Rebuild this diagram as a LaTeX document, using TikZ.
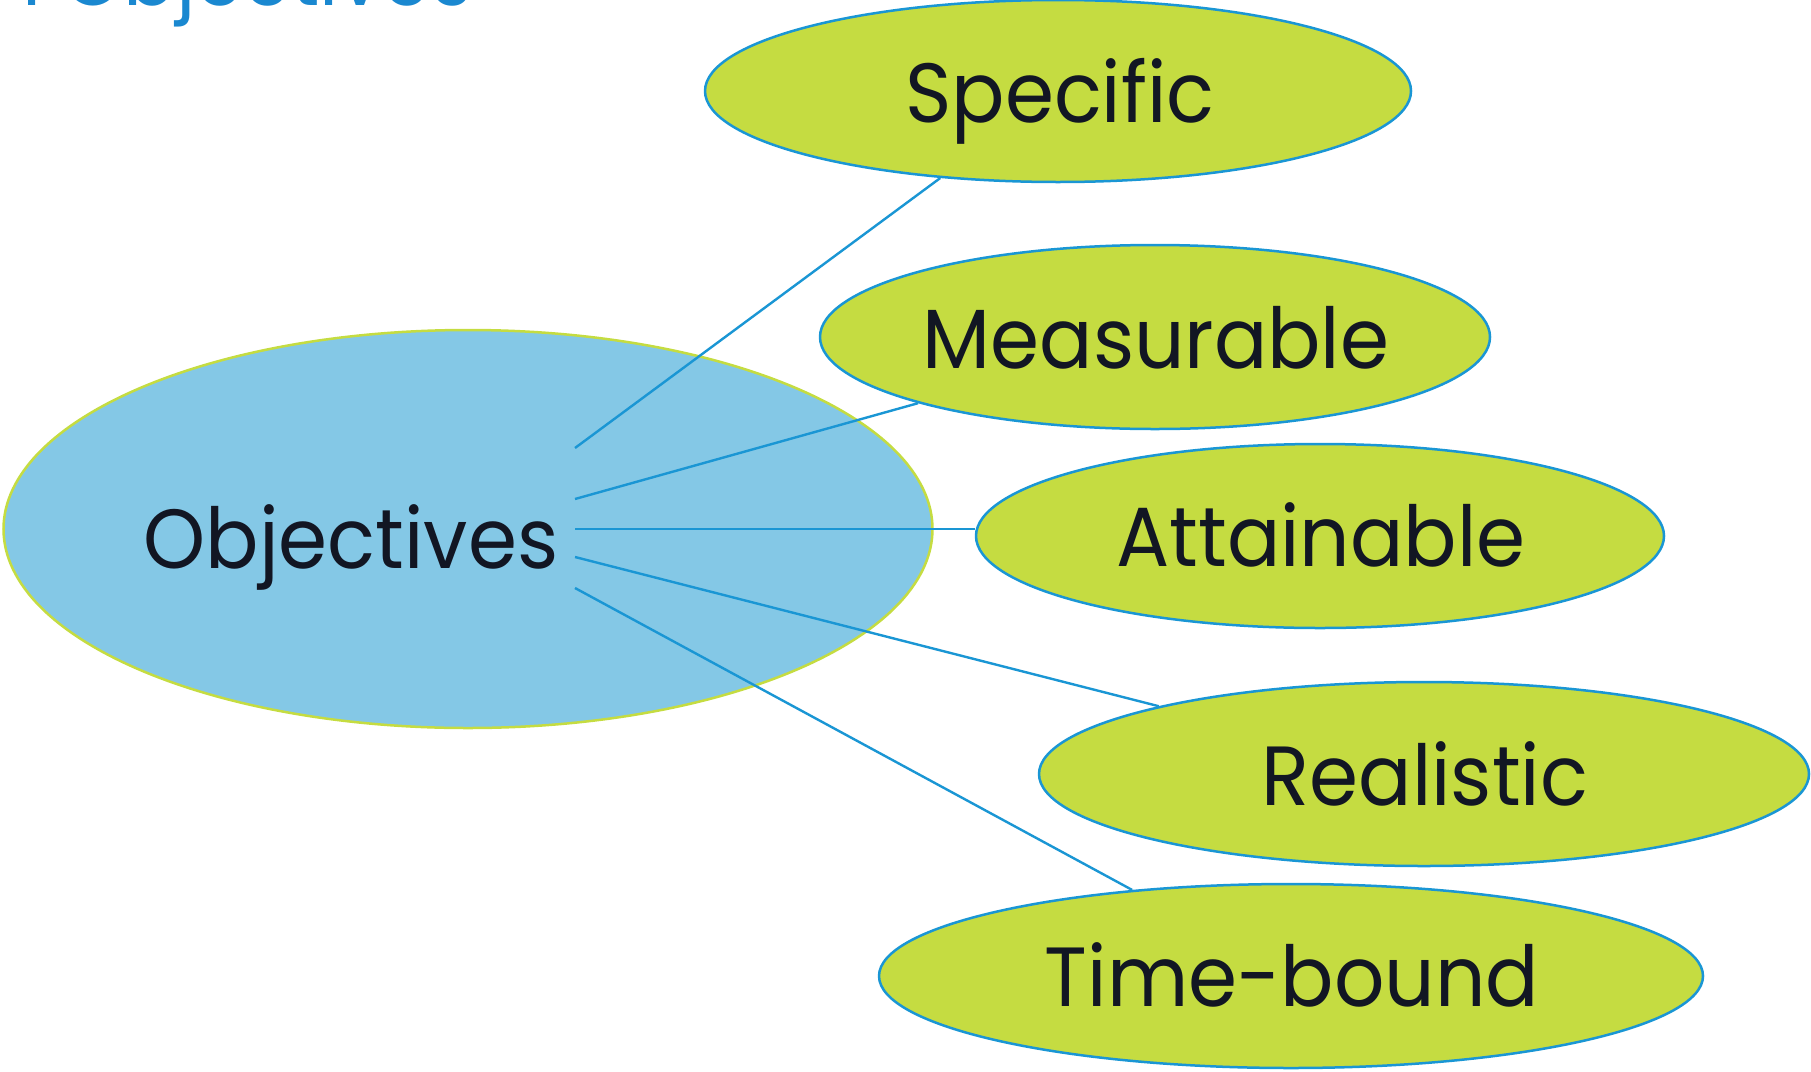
\documentclass[tikz,border=0pt]{standalone}
\usepackage{fontspec}
\setmainfont{Poppins}[FakeStretch=0.94]
\usetikzlibrary{shapes.geometric}
\definecolor{leaf}{RGB}{197,220,65}
\definecolor{sky}{RGB}{132,200,230}
\definecolor{linkblue}{RGB}{26,150,212}
\definecolor{titleblue}{RGB}{26,136,208}
\definecolor{ink}{RGB}{18,22,35}
\tikzset{
  goal/.style={ellipse, draw=linkblue, line width=2.5pt, fill=leaf, inner sep=0pt},
  hub/.style={ellipse, draw=leaf, line width=2.5pt, fill=sky, inner sep=0pt},
  word/.style={anchor=base, text=ink, inner sep=0pt, font=\fontsize{84}{90}\selectfont},
  link/.style={draw=linkblue, line width=2.4pt}
}
\begin{document}
\begin{tikzpicture}[x=1pt,y=-1pt]
\useasboundingbox (0,0) rectangle (1811,1071);
\clip (0,0) rectangle (1811,1071);
% cropped title
\node[anchor=base west, text=titleblue, inner sep=0pt, font=\fontsize{83}{90}\selectfont] (title) at (22,5) {I Objectives};
% hub
\node[hub, minimum width=929pt, minimum height=398pt] (obj) at (468,529) {};
\node[word] (objtxt) at (351,568) {Objectives};
% link start points
\coordinate (s1) at (575,448);
\coordinate (s2) at (575,499);
\coordinate (s3) at (575,529);
\coordinate (s4) at (575,557);
\coordinate (s5) at (575,588);
% goal ellipses
\node[goal, minimum width=706pt, minimum height=182pt] (spec) at (1058,91) {};
\node[goal, minimum width=670pt, minimum height=184pt] (meas) at (1155,337) {};
\node[goal, minimum width=688pt, minimum height=184pt] (att) at (1320,536) {};
\node[goal, minimum width=770pt, minimum height=184pt] (real) at (1424,774) {};
\node[goal, minimum width=824pt, minimum height=184pt] (time) at (1291,976) {};
% links
\draw[link] (s1) -- (spec);
\draw[link] (s2) -- (meas);
\draw[link] (s3) -- (s3 -| att.west);
\draw[link] (s4) -- (real);
\draw[link] (s5) -- (time);
% labels
\node[word] (spectxt) at (1060,122) {Specific};
\node[word] (meastxt) at (1156,368) {Measurable};
\node[word] (atttxt) at (1321,566) {Attainable};
\node[word] (realtxt) at (1425,805) {Realistic};
\node[word] (timetxt) at (1292,1006) {Time-bound};
\end{tikzpicture}
\end{document}
